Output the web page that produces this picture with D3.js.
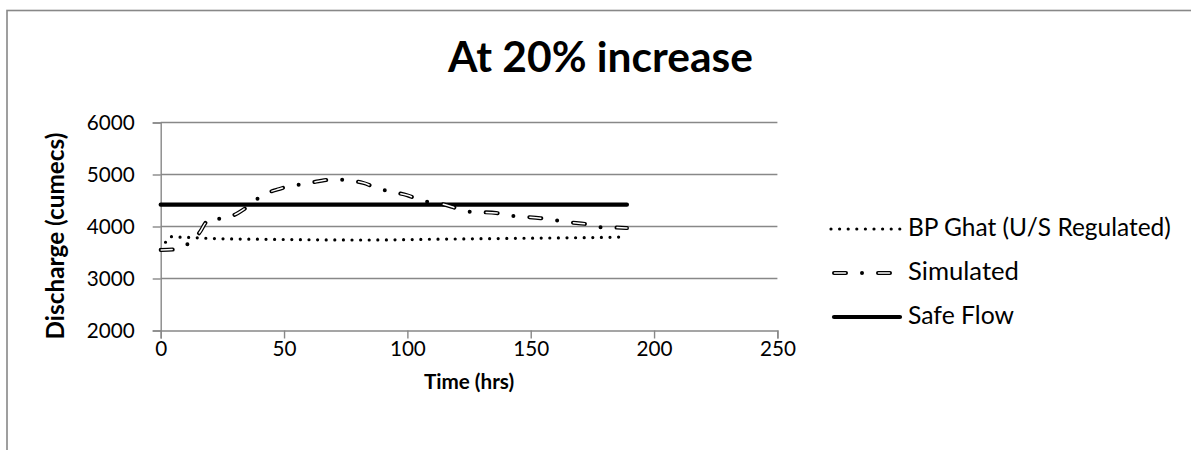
<!DOCTYPE html>
<html>
<head>
<meta charset="utf-8">
<script src="https://cdn.jsdelivr.net/npm/d3@7"></script>
<style>
  html, body { margin: 0; padding: 0; background: #fff; }
  svg { display: block; }
  text { font-family: Lato, "Open Sans", sans-serif; fill: #000; }
</style>
</head>
<body>
<svg id="chart" width="1191" height="450"></svg>
<script>
// ---- data ----
const chartTitle = "At 20% increase";
const xTicks = [0, 50, 100, 150, 200, 250];
const yTicks = [2000, 3000, 4000, 5000, 6000];

const bpTime = [0, 2, 4, 6, 8, 10, 12, 14, 16, 20, 30, 40, 50, 60, 70, 80, 90, 100, 110, 120, 130, 140, 150, 160, 170, 180, 189];
const bpValues = [3560, 3700, 3805, 3800, 3795, 3790, 3790, 3785, 3780, 3770, 3760, 3755, 3750, 3745, 3742, 3740, 3742, 3748, 3755, 3760, 3765, 3770, 3775, 3780, 3785, 3790, 3800];

const simTime = [0, 6, 9, 12, 14, 16, 18, 20, 22, 25, 28, 31, 34, 37, 40, 44, 48, 52, 58, 64, 70, 76, 82, 88, 94, 100, 106, 112, 118, 124, 130, 136, 142, 148, 154, 160, 166, 172, 178, 184, 189];
const simValues = [3550, 3560, 3610, 3700, 3790, 3900, 4060, 4160, 4150, 4146, 4190, 4250, 4340, 4440, 4560, 4660, 4720, 4775, 4815, 4870, 4905, 4885, 4840, 4735, 4665, 4600, 4495, 4455, 4380, 4285, 4275, 4260, 4205, 4185, 4160, 4120, 4080, 4050, 3985, 3980, 3970];

const safeTime = [0, 189];
const safeValues = [4420, 4420];

const seriesNames = ["BP Ghat (U/S Regulated)", "Simulated", "Safe Flow"];

// ---- layout ----
const svg = d3.select("#chart");
const x = d3.scaleLinear().domain([0, 250]).range([160.7, 777.4]);
const y = d3.scaleLinear().domain([2000, 6000]).range([330.5, 122.5]);
const grey = "#888888";

// scale a text's font size so its rendered width matches a target width
function fitWidth(sel, target) {
  const node = sel.node();
  const fs = parseFloat(sel.style("font-size"));
  const w = node.getComputedTextLength();
  if (w > 0) sel.style("font-size", (fs * target / w) + "px");
  return sel;
}

// outer chart border
svg.append("rect").attr("x", 7).attr("y", 10.5).attr("width", 1300).attr("height", 600)
  .attr("fill", "none").attr("stroke", grey).attr("stroke-width", 1.6);

// title
fitWidth(svg.append("text").attr("x", 600.5).attr("y", 72).attr("text-anchor", "middle")
  .style("font-weight", "bold").style("font-size", "36px").text(chartTitle), 305);

// gridlines
svg.append("g").selectAll("line").data(yTicks.filter(d => d !== 2000)).join("line")
  .attr("x1", x(0)).attr("x2", x(250))
  .attr("y1", d => y(d)).attr("y2", d => y(d))
  .attr("stroke", grey).attr("stroke-width", 1.4);

// y axis
const yAxis = svg.append("g").attr("transform", `translate(${x(0)},0)`)
  .call(d3.axisLeft(y).tickValues(yTicks).tickSize(8).tickPadding(18).tickFormat(d3.format("d")));
// x axis
const xAxis = svg.append("g").attr("transform", `translate(0,${y(2000)})`)
  .call(d3.axisBottom(x).tickValues(xTicks).tickSize(8).tickPadding(3).tickFormat(d3.format("d")));
[yAxis, xAxis].forEach(a => {
  a.select(".domain").attr("stroke", grey).attr("stroke-width", 1.4);
  a.selectAll(".tick line").attr("stroke", grey).attr("stroke-width", 1.4);
  a.selectAll(".tick text").style("font-family", "Lato, sans-serif").style("font-size", "20px").attr("fill", "#000");
});
// match tick label size to reference ("6000" ≈ 48px wide)
let tickFs = 20;
{
  const t = yAxis.selectAll(".tick text").filter(d => d === 6000);
  const w = t.node().getComputedTextLength();
  tickFs = 20 * 48 / w;
  yAxis.selectAll(".tick text").style("font-size", tickFs + "px");
  xAxis.selectAll(".tick text").style("font-size", tickFs + "px");
}

// axis titles
svg.append("text").attr("x", (x(0) + x(250)) / 2).attr("y", 389).attr("text-anchor", "middle")
  .style("font-weight", "bold").style("font-size", tickFs + "px").text("Time (hrs)");
fitWidth(svg.append("text").attr("transform", "translate(64,236) rotate(-90)").attr("text-anchor", "middle")
  .style("font-weight", "bold").style("font-size", "19px").text("Discharge (cumecs)"), 207);

// ---- series ----
const line = d3.line().x(d => x(d[0])).y(d => y(d[1])).curve(d3.curveMonotoneX);
const lineLin = d3.line().x(d => x(d[0])).y(d => y(d[1]));

const bpData = bpTime.map((t, i) => [t, bpValues[i]]);
const simData = simTime.map((t, i) => [t, simValues[i]]);
const safeData = safeTime.map((t, i) => [t, safeValues[i]]);

function drawBP(g, d) {
  g.append("path").attr("d", d).attr("fill", "none").attr("stroke", "#000")
    .attr("stroke-width", 3.2).attr("stroke-linecap", "round").attr("stroke-dasharray", "0 8.6");
}
function drawSim(g, d) {
  g.append("path").attr("d", d).attr("fill", "none").attr("stroke", "#000")
    .attr("stroke-width", 4).attr("stroke-linecap", "round").attr("stroke-dasharray", "12 16 0 16");
  g.append("path").attr("d", d).attr("fill", "none").attr("stroke", "#fff")
    .attr("stroke-width", 1.5).attr("stroke-linecap", "round").attr("stroke-dasharray", "11 33")
    .attr("stroke-dashoffset", -0.5);
}
function drawSafe(g, d) {
  g.append("path").attr("d", d).attr("fill", "none").attr("stroke", "#000")
    .attr("stroke-width", 4.2).attr("stroke-linecap", "round");
}

const plot = svg.append("g");
drawSafe(plot, lineLin(safeData));
drawBP(plot, line(bpData));
drawSim(plot, line(simData));

// ---- legend ----
const legendY = [229, 273, 317];
const legendW = [263, 111, 106];
const legend = svg.append("g");
const drawers = [drawBP, drawSim, drawSafe];
seriesNames.forEach((name, i) => {
  const yy = legendY[i];
  drawers[i](legend, `M${i === 0 ? 831 : 834},${yy}L${i === 0 ? 902 : 900},${yy}`);
  fitWidth(legend.append("text").attr("x", 908).attr("y", yy + 7).style("font-size", "19.5px").text(name), legendW[i]);
});
</script>
</body>
</html>
